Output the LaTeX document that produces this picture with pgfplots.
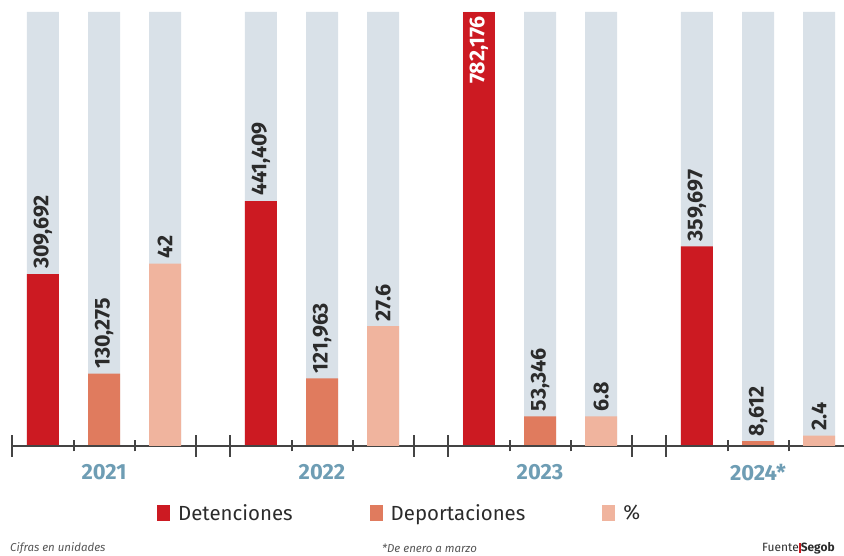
\documentclass[border=0pt]{standalone}
\usepackage{fontspec}
\setmainfont{Fira Sans}
\usepackage{pgfplots}
\pgfplotsset{compat=1.18}
\definecolor{gbar}{HTML}{D9E1E8}
\definecolor{det}{HTML}{CC1A22}
\definecolor{dep}{HTML}{E07B5E}
\definecolor{pct}{HTML}{F0B49E}
\definecolor{yr}{HTML}{6E9DB4}
\definecolor{lab}{HTML}{2B2B2B}
\definecolor{axc}{HTML}{444444}
\pgfplotsset{base/.style={
  at={(0,110bp)}, anchor=south west, scale only axis,
  width=844bp, height=434bp,
  xmin=-0.4771, xmax=3.3945, ymin=0,
  axis line style={draw=none}, ytick=\empty, tick style={draw=none},
  major tick length=0pt,
  clip=false, ybar, bar width=0.1468,
  /pgf/number format/assume math mode=true,
  nodes near coords style={font=\fontsize{21.5}{21.5}\selectfont\bfseries, text=lab, rotate=90, anchor=west, inner xsep=5bp, inner ysep=0pt},
}}
\begin{document}
\begin{tikzpicture}
\begin{axis}[base, ymax=782176,
  xtick={0,1,2,3}, xticklabels={2021,2022,2023,2024*},
  xticklabel style={font=\fontsize{22}{22}\selectfont\bfseries, text=yr, yshift=-15bp},
  /pgf/number format/.cd, fixed, precision=0, 1000 sep={,}, assume math mode=true, /pgfplots/.cd,
  legend columns=3,
  legend image code/.code={\fill[#1] (0bp,-8bp) rectangle (13bp,8bp);},
  legend style={at={(0.186,-0.1544)}, anchor=west, draw=none, fill=none, inner sep=0pt,
    font=\fontsize{20.5}{20.5}\selectfont, text=lab, nodes={inner sep=0pt},
    /tikz/every odd column/.append style={column sep=8bp},
    /tikz/every even column/.append style={column sep=77bp}},
]
% background bars
\addplot[fill=gbar, draw=none, bar shift=-0.28, forget plot] coordinates {(0,782176) (1,782176) (2,782176) (3,782176)};
\addplot[fill=gbar, draw=none, bar shift=0, forget plot] coordinates {(0,782176) (1,782176) (2,782176) (3,782176)};
\addplot[fill=gbar, draw=none, bar shift=0.28, forget plot] coordinates {(0,782176) (1,782176) (2,782176) (3,782176)};
% Detenciones
\addplot[fill=det, draw=none, bar shift=-0.28, forget plot, nodes near coords] coordinates {(0,309692) (1,441409) (3,359697)};
\addplot[fill=det, draw=none, bar shift=-0.28, forget plot, nodes near coords,
  nodes near coords style={text=white, anchor=east, inner xsep=4bp}] coordinates {(2,782176)};
% Deportaciones
\addplot[fill=dep, draw=none, bar shift=0, forget plot, nodes near coords] coordinates {(0,130275) (1,121963) (2,53346) (3,8612)};
\addlegendimage{fill=det, draw=none}\addlegendentry{Detenciones}
\addlegendimage{fill=dep, draw=none}\addlegendentry{Deportaciones}
\addlegendimage{fill=pct, draw=none}\addlegendentry{\%}
% axis line and ticks
\draw[line width=1.4bp, axc] (axis cs:-0.422,0) -- (axis cs:3.3945,0);
\pgfplotsinvokeforeach{0,1,2,3}{
  \draw[line width=1.4bp, axc] ([yshift=-11bp]axis cs:#1-0.422,0) -- ([yshift=11bp]axis cs:#1-0.422,0);
  \draw[line width=1.4bp, axc] ([yshift=-11bp]axis cs:#1+0.422,0) -- ([yshift=11bp]axis cs:#1+0.422,0);
  \draw[line width=1.4bp, axc] ([yshift=-5.5bp]axis cs:#1-0.1376,0) -- ([yshift=5.5bp]axis cs:#1-0.1376,0);
  \draw[line width=1.4bp, axc] ([yshift=-5.5bp]axis cs:#1+0.142,0) -- ([yshift=5.5bp]axis cs:#1+0.142,0);
}
\end{axis}
\begin{axis}[base, ymax=100, xtick=\empty,
  /pgf/number format/.cd, fixed, precision=1, assume math mode=true, /pgfplots/.cd]
\addplot[fill=pct, draw=none, bar shift=0.28, nodes near coords] coordinates {(0,42) (1,27.6) (2,6.8) (3,2.4)};
\end{axis}
\node[anchor=west, inner sep=0pt, font=\fontsize{11.5}{12}\selectfont\itshape, text=lab!80] at (10bp,8bp) {Cifras en unidades};
\node[anchor=west, inner sep=0pt, font=\fontsize{11.5}{12}\selectfont\itshape, text=lab!80] at (382bp,8bp) {*De enero a marzo};
\node[anchor=west, inner sep=0pt, font=\fontsize{12}{12}\selectfont, text=lab] at (762bp,8bp) {Fuente{\color{det}\rule[-1.5bp]{2bp}{10bp}}\textbf{Segob}};
\pgfresetboundingbox
\path[use as bounding box] (0,0) rectangle (844bp,556bp);
\end{tikzpicture}
\end{document}
